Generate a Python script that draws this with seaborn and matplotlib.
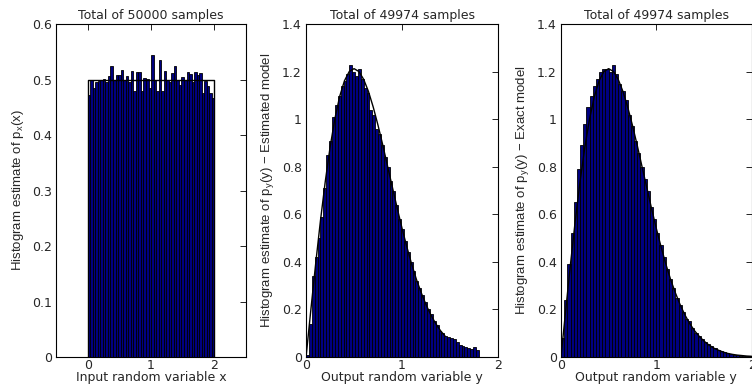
import numpy as np
import matplotlib
matplotlib.use("Agg")
import matplotlib.pyplot as plt
import seaborn as sns
from matplotlib.ticker import FormatStrFormatter

# ---- data ----
# left: uniform input x, 50 bins on [0, 2]
x_heights = [0.473, 0.500, 0.485, 0.496, 0.497, 0.500, 0.501, 0.495, 0.506, 0.524,
             0.499, 0.508, 0.508, 0.518, 0.500, 0.507, 0.496, 0.516, 0.479, 0.513,
             0.513, 0.480, 0.503, 0.501, 0.485, 0.545, 0.499, 0.480, 0.535, 0.480,
             0.516, 0.499, 0.496, 0.512, 0.524, 0.499, 0.490, 0.505, 0.499, 0.513,
             0.511, 0.496, 0.513, 0.508, 0.512, 0.476, 0.497, 0.488, 0.476, 0.467]
x_model_x = [0, 0, 2, 2]
x_model_y = [0, 0.5, 0.5, 0]

# middle: output y, estimated model, 60 bins on [0, 1.8]
y_est_heights = [0.01, 0.14, 0.34, 0.42, 0.50, 0.59, 0.71, 0.85, 0.91, 1.01,
                 1.06, 1.10, 1.14, 1.16, 1.19, 1.23, 1.20, 1.18, 1.21, 1.17,
                 1.13, 1.11, 1.04, 1.02, 0.96, 0.94, 0.89, 0.84, 0.80, 0.74,
                 0.70, 0.64, 0.58, 0.54, 0.49, 0.44, 0.40, 0.36, 0.32, 0.29,
                 0.26, 0.23, 0.20, 0.18, 0.15, 0.135, 0.11, 0.10, 0.09, 0.085,
                 0.08, 0.075, 0.065, 0.052, 0.048, 0.043, 0.036, 0.032, 0.04, 0.03]
y_est_curve_x = [0.0, 0.05, 0.1, 0.15, 0.2, 0.25, 0.3, 0.35, 0.4, 0.45, 0.5, 0.55,
                 0.6, 0.65, 0.7, 0.75, 0.8, 0.85, 0.9, 0.95, 1.0, 1.05, 1.1, 1.15,
                 1.2, 1.25, 1.3, 1.35, 1.4, 1.45]
y_est_curve_y = [0.0, 0.199, 0.392, 0.574, 0.738, 0.882, 1.002, 1.096, 1.162, 1.201,
                 1.213, 1.201, 1.168, 1.117, 1.051, 0.974, 0.890, 0.801, 0.713, 0.625,
                 0.541, 0.463, 0.391, 0.326, 0.270, 0.220, 0.177, 0.141, 0.111, 0.087]

# right: output y, exact model, 60 bins on [0, 2]
y_ex_heights = [0.08, 0.24, 0.39, 0.52, 0.65, 0.79, 0.89, 0.98, 1.05, 1.10,
                1.14, 1.17, 1.20, 1.21, 1.21, 1.20, 1.23, 1.19, 1.15, 1.12,
                1.08, 1.02, 0.97, 0.91, 0.86, 0.80, 0.75, 0.70, 0.63, 0.58,
                0.52, 0.47, 0.42, 0.37, 0.33, 0.29, 0.25, 0.22, 0.19, 0.16,
                0.15, 0.12, 0.10, 0.09, 0.075, 0.065, 0.055, 0.045, 0.038, 0.03,
                0.026, 0.02, 0.017, 0.013, 0.01, 0.008, 0.006, 0.005, 0.004, 0.003]
y_ex_curve_x = y_est_curve_x + [1.5, 1.55, 1.6, 1.65, 1.7, 1.75, 1.8, 1.85, 1.9, 1.95, 2.0]
y_ex_curve_y = y_est_curve_y + [0.067, 0.051, 0.038, 0.029, 0.021, 0.015, 0.011,
                                0.008, 0.006, 0.004, 0.003]

titles = ["Total of 50000 samples", "Total of 49974 samples", "Total of 49974 samples"]
xlabels = ["Input random variable x", "Output random variable y", "Output random variable y"]
ylabels = [r"Histogram estimate of p$_x$(x)",
           r"Histogram estimate of p$_y$(y) $-$ Estimated model",
           r"Histogram estimate of p$_y$(y) $-$ Exact model"]

sns.set_theme(style="white")
plt.rcParams["font.family"] = ["DejaVu Sans"]
plt.rcParams["mathtext.fontset"] = "custom"
plt.rcParams["mathtext.rm"] = "Liberation Sans"
plt.rcParams["mathtext.it"] = "Liberation Sans"
plt.rcParams["xtick.direction"] = "in"
plt.rcParams["ytick.direction"] = "in"

BAR = "#000080"

fig = plt.figure(figsize=(7.52, 3.87), dpi=100)
ax1 = fig.add_axes([0.0745, 0.0775, 0.2527, 0.860])
ax2 = fig.add_axes([0.407, 0.0775, 0.2553, 0.860])
ax3 = fig.add_axes([0.746, 0.0775, 0.2535, 0.860])


def draw_hist(ax, heights, lo, hi):
    n = len(heights)
    w = (hi - lo) / n
    centers = [lo + w * (i + 0.5) for i in range(n)]
    sns.histplot(x=centers, weights=heights, bins=n, binrange=(lo, hi), ax=ax,
                 color=BAR, edgecolor="black", linewidth=0.6, alpha=1)


draw_hist(ax1, x_heights, 0, 2)
sns.lineplot(x=x_model_x, y=x_model_y, ax=ax1, color="black", lw=1, sort=False,
             estimator=None)
ax1.set_xlim(-0.5, 2.5)
ax1.set_ylim(0, 0.6)
ax1.set_yticks(np.arange(0, 0.61, 0.1))

draw_hist(ax2, y_est_heights, 0, 1.8)
sns.lineplot(x=y_est_curve_x, y=y_est_curve_y, ax=ax2, color="black", lw=1,
             estimator=None)
ax2.set_xlim(0, 2)
ax2.set_ylim(0, 1.4)

draw_hist(ax3, y_ex_heights, 0, 2)
sns.lineplot(x=y_ex_curve_x, y=y_ex_curve_y, ax=ax3, color="black", lw=1,
             estimator=None)
ax3.set_xlim(0, 2)
ax3.set_ylim(0, 1.4)

for ax, t, xl, yl in zip([ax1, ax2, ax3], titles, xlabels, ylabels):
    ax.set_xticks([0, 1, 2])
    if ax is not ax1:
        ax.set_yticks(np.arange(0, 1.41, 0.2))
    ax.yaxis.set_major_formatter(FormatStrFormatter("%g"))
    ax.xaxis.set_major_formatter(FormatStrFormatter("%g"))
    ax.tick_params(top=True, right=True, length=4, width=0.6, labelsize=9,
                   pad=3, color="black")
    ax.tick_params(axis="x", pad=1.5)
    for s in ax.spines.values():
        s.set_color("black")
        s.set_linewidth(0.8)
    ax.set_title(t, fontsize=9, pad=4)
    ax.set_xlabel(xl, fontsize=9, labelpad=-1)
    ax.set_ylabel(yl, fontsize=9.5, labelpad=4, family=["Liberation Sans"])
    ax.grid(False)

fig.savefig("out.png", dpi=100)
